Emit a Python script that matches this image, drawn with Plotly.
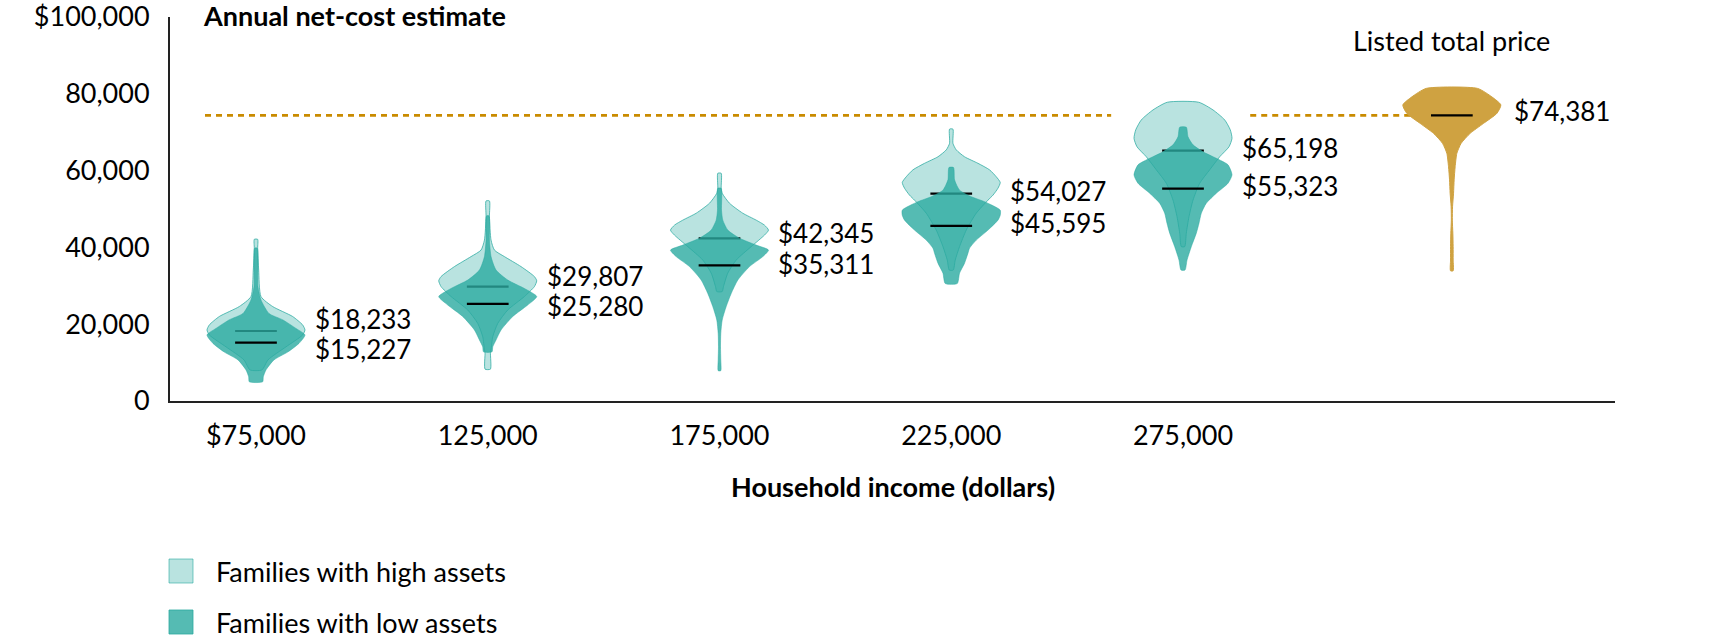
import plotly.graph_objects as go

# ---------------- data ----------------
income_labels = ["$75,000", "125,000", "175,000", "225,000", "275,000"]
median_high = [18233, 29807, 42345, 54027, 65198]
median_low = [15227, 25280, 35311, 45595, 55323]
listed_price_median = 74381

# violin density profiles: (net cost $, relative density)
high_vals = [
    [42100, 39800, 34100, 27200, 24600, 22000, 19800, 18500, 17200, 14100, 10700, 8100],
    [52100, 48000, 41900, 39300, 37600, 35000, 32400, 31300, 29800, 27200, 23700, 20200, 16700, 13300, 12600, 8300],
    [59300, 55400, 54100, 51500, 48900, 47100, 45800, 44500, 43200, 40200, 36700, 33300, 29800, 28500],
    [70800, 67100, 65400, 63600, 61900, 60200, 58400, 56900, 55400, 53600, 52300, 48900, 44500, 40200, 36700, 34100],
    [77800, 75800, 73200, 70600, 68400, 66200, 63600, 60200, 56700, 52300, 48000, 43700, 40200],
]
high_dens = [
    [1.7, 1.7, 2.7, 5, 16.7, 36.7, 46.7, 49, 46.7, 30, 12, 6],
    [1.7, 1.7, 3.3, 6.7, 16.7, 33.3, 46.7, 49, 46.7, 36.7, 20, 10, 5, 3.3, 2.7, 2.7],
    [1.7, 1.7, 2.7, 10, 23.3, 36.7, 45, 49, 45, 31.7, 16.7, 8.3, 4, 2.7],
    [1.7, 1.7, 5, 13.3, 26.7, 38.3, 45, 49, 46.7, 41.7, 36.7, 25, 15, 8.3, 4, 2],
    [15.7, 30, 41.7, 47.3, 49, 46, 36.7, 26.7, 16.7, 10, 6, 3.3, 1.7],
]
low_vals = [
    [39800, 29800, 26300, 22800, 21100, 18900, 17200, 15000, 12800, 10700, 8100, 6300, 5000],
    [48200, 41900, 37600, 34100, 31500, 29300, 27200, 25000, 22000, 18500, 15900, 14100, 12800],
    [55400, 49700, 47100, 44500, 42400, 40600, 39300, 37600, 35000, 31500, 28000, 24600, 21100, 17600, 14100, 10700, 7900],
    [60800, 57600, 54900, 53200, 51900, 49700, 48400, 47100, 44500, 41900, 39800, 38500, 35900, 33300, 30600],
    [71300, 68800, 66700, 64900, 63200, 61500, 58900, 56700, 54100, 51500, 48900, 46300, 43700, 40200, 36700, 34100],
]
low_dens = [
    [1.3, 2, 5, 13, 27, 40, 49, 43, 32, 18, 10, 7.3, 6.7],
    [1.3, 1.7, 3.3, 8.3, 20, 36.7, 49, 40, 25, 13.3, 8.3, 5, 4.3],
    [1.7, 2, 3.3, 8.3, 20, 36.7, 49, 43.3, 30, 18.3, 11.7, 6.7, 2.7, 1.3, 1, 1.3, 1.3],
    [2.3, 3.3, 8.3, 20, 33.3, 49, 49, 46.7, 36.7, 25, 18.3, 16.7, 13.3, 8.3, 6],
    [3.3, 5, 10, 20, 33.3, 45, 49, 45, 33.3, 23.3, 18.3, 16, 13.3, 8.3, 4, 2],
]
price_vals = [81400, 79200, 77100, 74900, 72300, 69700, 67100, 64500, 61000, 57600, 54100, 50600,
              47100, 43700, 40200, 36700, 33900]
price_dens = [25.7, 40, 49, 45, 31.7, 18.3, 9.3, 5, 3.3, 2.3, 1.7, 0.7, 0.5, 1, 1.3, 1.3, 1.3]

y_ticks = [0, 20000, 40000, 60000, 80000, 100000]
y_ticktext = ["0", "20,000", "40,000", "60,000", "80,000", "$100,000"]

# ---------------- layout constants ----------------
W, H = 1713, 640
L, R, T, B = 170, 98, 17, 239
PW, PH = W - L - R, H - T - B
X_RANGE = [-0.371, 5.864]
PRICE_POS = 5.16
HALF_W = 0.2114      # max half width of a violin in x units
MED_HALF = 0.09
FONT = "Lato"
FS = 27
FS_VAL = 26
TEAL = "42,170,160"
GOLD = "#CFA241"
DASH_COL = "#C98B00"


def px2x(p):
    return (p - L) / PW


def py2y(p):
    return (H - B - p) / PH


def violin_xy(center, vals, dens):
    m = max(dens)
    xr = [center + d / m * HALF_W for d in dens]
    xl = [center - d / m * HALF_W for d in dens]
    xs = xr + xl[::-1] + [xr[0]]
    ys = vals + vals[::-1] + [vals[0]]
    return xs, ys


fig = go.Figure()

shape_line = dict(shape="spline", smoothing=0.6)
for i in range(len(income_labels)):
    xs, ys = violin_xy(i, high_vals[i], high_dens[i])
    fig.add_trace(go.Scatter(x=xs, y=ys, fill="toself", mode="lines",
                             fillcolor=f"rgba({TEAL},0.33)",
                             line=dict(color=f"rgba({TEAL},0.75)", width=1, **shape_line),
                             hoverinfo="skip", showlegend=False))
    fig.add_trace(go.Scatter(x=[i - MED_HALF, i + MED_HALF], y=[median_high[i]] * 2, mode="lines",
                             line=dict(color="black", width=2.2), hoverinfo="skip", showlegend=False))
    xs, ys = violin_xy(i, low_vals[i], low_dens[i])
    fig.add_trace(go.Scatter(x=xs, y=ys, fill="toself", mode="lines",
                             fillcolor=f"rgba({TEAL},0.8)",
                             line=dict(color=f"rgba({TEAL},0.5)", width=1, **shape_line),
                             hoverinfo="skip", showlegend=False))
    fig.add_trace(go.Scatter(x=[i - MED_HALF, i + MED_HALF], y=[median_low[i]] * 2, mode="lines",
                             line=dict(color="black", width=2.2), hoverinfo="skip", showlegend=False))

xs, ys = violin_xy(PRICE_POS, price_vals, price_dens)
fig.add_trace(go.Scatter(x=xs, y=ys, fill="toself", mode="lines", fillcolor=GOLD,
                         line=dict(color=GOLD, width=1, **shape_line),
                         hoverinfo="skip", showlegend=False))
fig.add_trace(go.Scatter(x=[PRICE_POS - MED_HALF, PRICE_POS + MED_HALF], y=[listed_price_median] * 2,
                         mode="lines", line=dict(color="black", width=2.2),
                         hoverinfo="skip", showlegend=False))

# dashed reference line (broken around the last violin)
for x0, x1 in [(-0.22, 3.69), (4.29, PRICE_POS)]:
    fig.add_shape(type="line", xref="x", yref="y", x0=x0, x1=x1,
                  y0=listed_price_median, y1=listed_price_median, layer="below",
                  line=dict(color=DASH_COL, width=2.7, dash="6px,5px"))

# value labels
label_font = dict(family=FONT, size=FS, color="black")
val_font = dict(family=FONT, size=FS_VAL, color="black")
shifts_high = [12, 11, 5, 3, 3]
shifts_low = [-6, -2, 1, 3, 3]
for i in range(len(income_labels)):
    fig.add_annotation(x=i, y=median_high[i], xref="x", yref="y", text=f"${median_high[i]:,}",
                       showarrow=False, xanchor="left", yanchor="middle", xshift=58,
                       yshift=shifts_high[i], font=val_font, borderpad=0)
    fig.add_annotation(x=i, y=median_low[i], xref="x", yref="y", text=f"${median_low[i]:,}",
                       showarrow=False, xanchor="left", yanchor="middle", xshift=58,
                       yshift=shifts_low[i], font=val_font, borderpad=0)
fig.add_annotation(x=PRICE_POS, y=listed_price_median, xref="x", yref="y",
                   text=f"${listed_price_median:,}", showarrow=False, xanchor="left",
                   yanchor="middle", xshift=61, yshift=4, font=val_font, borderpad=0)

# texts
fig.add_annotation(x=px2x(201), y=py2y(16), xref="paper", yref="paper",
                   text="<b>Annual net-cost estimate</b>", showarrow=False,
                   xanchor="left", yanchor="middle", font=label_font)
fig.add_annotation(x=PRICE_POS, y=py2y(40), xref="x", yref="paper",
                   text="Listed total price", showarrow=False,
                   xanchor="center", yanchor="middle", font=label_font)
fig.add_annotation(x=px2x(893), y=py2y(486), xref="paper", yref="paper",
                   text="<b>Household income (dollars)</b>", showarrow=False,
                   xanchor="center", yanchor="middle", font=label_font)

# legend
legend_items = [("Families with high assets", f"rgba({TEAL},0.33)", f"rgba({TEAL},0.6)", 571),
                ("Families with low assets", f"rgba({TEAL},0.8)", f"rgba({TEAL},0.8)", 622)]
for text, fill, border, cy in legend_items:
    fig.add_shape(type="rect", xref="paper", yref="paper",
                  x0=px2x(169), x1=px2x(193), y0=py2y(cy - 12), y1=py2y(cy + 12),
                  fillcolor=fill, line=dict(color=border, width=1))
    fig.add_annotation(x=px2x(214), y=py2y(cy), xref="paper", yref="paper", text=text,
                       showarrow=False, xanchor="left", yanchor="middle", font=label_font)

fig.update_layout(
    width=W, height=H,
    margin=dict(l=L, r=R, t=T, b=B, pad=0, autoexpand=False),
    paper_bgcolor="white", plot_bgcolor="white",
    showlegend=False,
    font=dict(family=FONT, size=FS, color="black"),
    xaxis=dict(range=X_RANGE, tickvals=list(range(len(income_labels))), ticktext=income_labels,
               showgrid=False, zeroline=False, showline=True, linecolor="#222", linewidth=2,
               ticks="", ticklabelstandoff=10, automargin=False,
               tickfont=dict(family=FONT, size=FS, color="black")),
    yaxis=dict(range=[0, 100000], tickvals=y_ticks, ticktext=y_ticktext,
               showgrid=False, zeroline=False, showline=True, linecolor="#222", linewidth=2,
               ticks="", ticklabelstandoff=13, automargin=False, ticklabeloverflow="allow",
               tickfont=dict(family=FONT, size=FS, color="black")),
)

fig.write_html("out.html")
